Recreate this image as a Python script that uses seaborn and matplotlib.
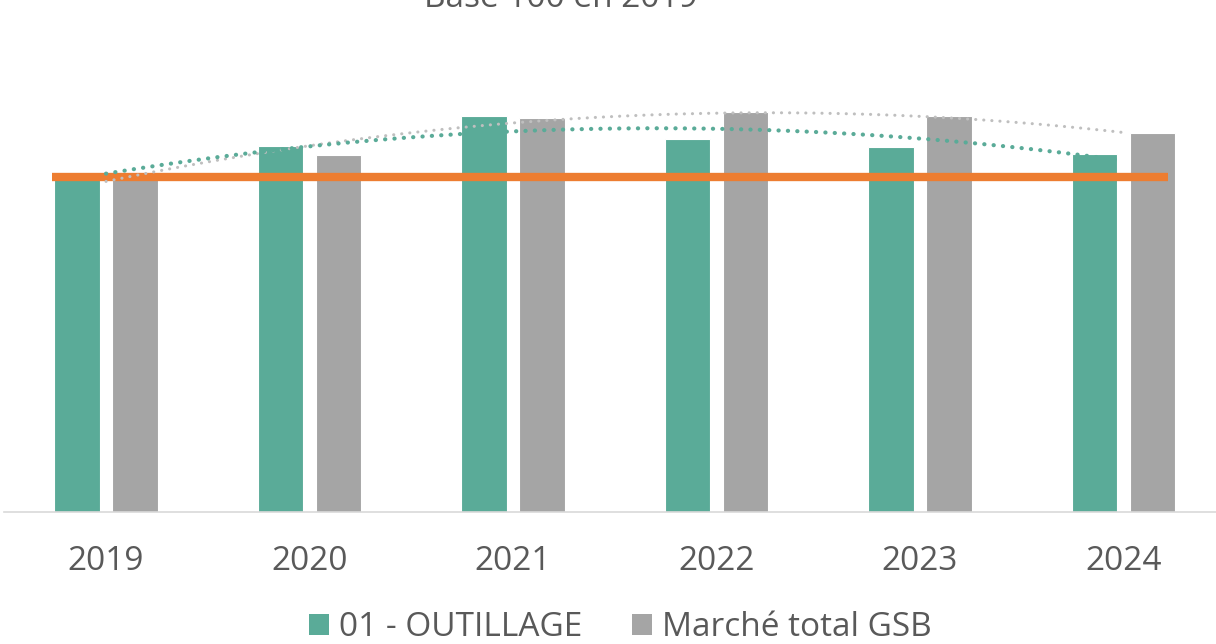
import numpy as np
import pandas as pd
import seaborn as sns
import matplotlib.pyplot as plt
from matplotlib.patches import Patch

years = ['2019', '2020', '2021', '2022', '2023', '2024']
outillage = [100, 109.4, 118.5, 111.5, 109.1, 107.0]
marche_gsb = [100, 106.7, 117.9, 119.5, 118.3, 113.2]
series_names = ['01 - OUTILLAGE', 'Marché total GSB']
base = 100

green = '#5AAB98'
grey = '#A5A5A5'
orange = '#ED7D31'
text_col = '#595959'

df = pd.DataFrame({
    'year': years * 2,
    'value': outillage + marche_gsb,
    'serie': [series_names[0]] * len(years) + [series_names[1]] * len(years),
})

sns.set_style('white')
plt.rcParams['font.family'] = ['Open Sans', 'DejaVu Sans']

fig = plt.figure(figsize=(12.16, 6.44), dpi=100)
ax = fig.add_axes([4.25 / 1216, 132 / 644, 1221 / 1216, 472 / 644])

sns.barplot(data=df, x='year', y='value', hue='serie', palette=[green, grey],
            saturation=1, width=0.57, gap=0.207, edgecolor='white', linewidth=0.8,
            ax=ax, zorder=2)
ax.get_legend().remove()

# ligne de base 100
ax.hlines(base, -0.265, 5.22, color=orange, linewidth=6, zorder=3)

# courbes de tendance polynomiales (ordre 2)
x = np.arange(len(years))
xs = np.linspace(0, len(years) - 1, 300)
for vals, col, lw, sp in [(marche_gsb, '#BFBFBF', 2.2, 2.6), (outillage, green, 3.0, 2.2)]:
    coef = np.polyfit(x, vals, 2)
    ax.plot(xs, np.polyval(coef, xs), color=col, linewidth=lw,
            linestyle=(0, (0.05, sp)), dash_capstyle='round', zorder=4)

ax.set_xlim(-0.5, len(years) - 0.5)
ax.set_ylim(0, 472 / 334.5 * 100)
ax.set_xlabel('')
ax.set_ylabel('')
ax.set_yticks([])
for s in ['left', 'right', 'top']:
    ax.spines[s].set_visible(False)
ax.spines['bottom'].set_color('#D9D9D9')
ax.spines['bottom'].set_linewidth(1.2)
ax.tick_params(axis='x', length=0, pad=24, labelsize=24, labelcolor=text_col)

fig.text(561 / 1216, 1 - 7 / 644, 'Base 100 en 2019', ha='center', va='baseline',
         fontsize=24, color=text_col)

handles = [Patch(facecolor=green, edgecolor='none'), Patch(facecolor=grey, edgecolor='none')]
fig.legend(handles, series_names, loc='center', bbox_to_anchor=(620 / 1216, 1 - 628 / 644),
           ncol=2, frameon=False, fontsize=24, handlelength=0.6, handleheight=0.6,
           handletextpad=0.3, columnspacing=1.5, labelcolor=text_col, borderpad=0)

fig.savefig('out.png', dpi=100)
